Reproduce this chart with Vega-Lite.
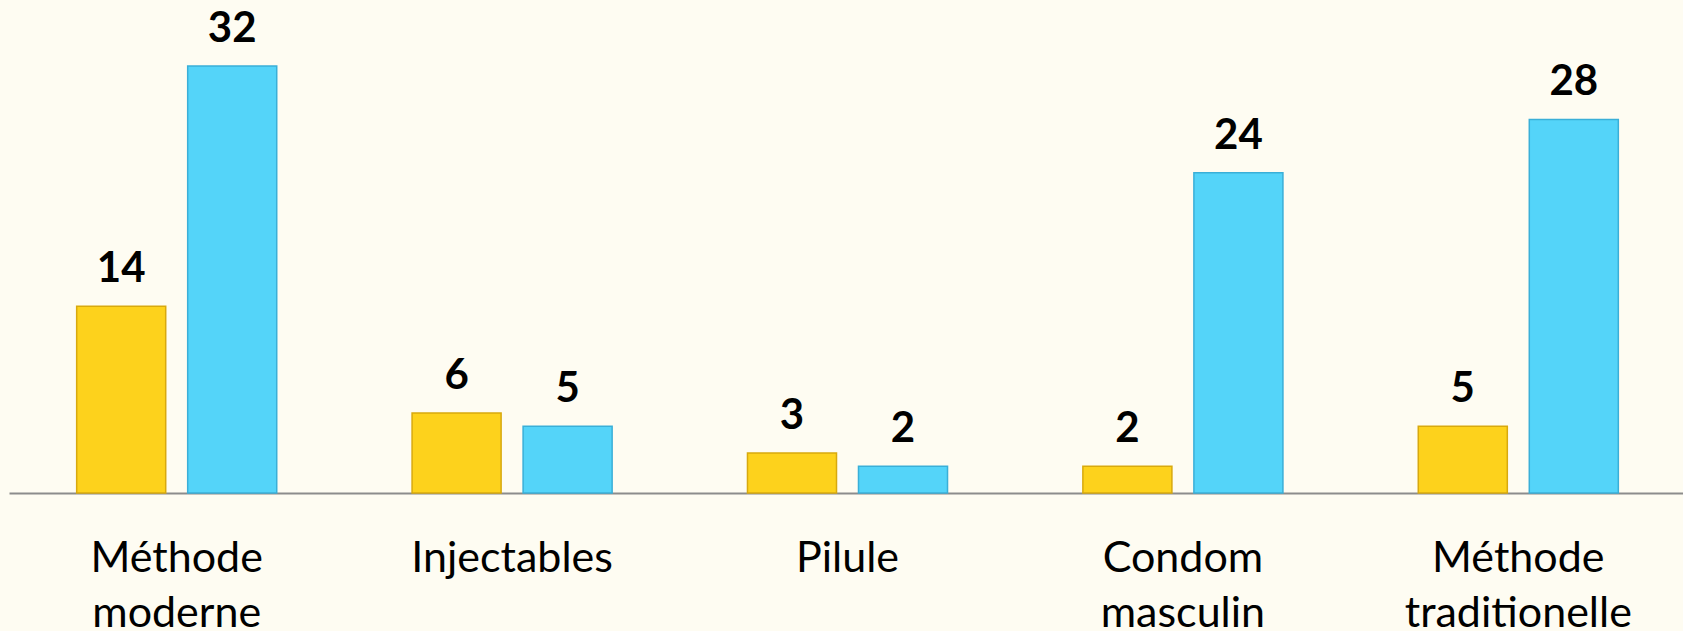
{
  "$schema": "https://vega.github.io/schema/vega-lite/v6.json",
  "autosize": {"type": "none"},
  "width": 1677,
  "height": 493,
  "padding": {"left": 9, "top": 0, "right": 0, "bottom": 138},
  "background": "#FEFCF2",
  "config": {"view": {"stroke": null}},
  "data": {
    "values": [
      {"methode": "Méthode moderne", "groupe": "A", "valeur": 14},
      {"methode": "Méthode moderne", "groupe": "B", "valeur": 32},
      {"methode": "Injectables", "groupe": "A", "valeur": 6},
      {"methode": "Injectables", "groupe": "B", "valeur": 5},
      {"methode": "Pilule", "groupe": "A", "valeur": 3},
      {"methode": "Pilule", "groupe": "B", "valeur": 2},
      {"methode": "Condom masculin", "groupe": "A", "valeur": 2},
      {"methode": "Condom masculin", "groupe": "B", "valeur": 24},
      {"methode": "Méthode traditionelle", "groupe": "A", "valeur": 5},
      {"methode": "Méthode traditionelle", "groupe": "B", "valeur": 28}
    ]
  },
  "encoding": {
    "x": {
      "field": "methode",
      "type": "nominal",
      "sort": null,
      "scale": {"paddingInner": 0.338, "paddingOuter": 0.169},
      "axis": {
        "title": null,
        "labelAngle": 0,
        "labelFont": "Lato",
        "labelFontSize": 43,
        "labelColor": "#000000",
        "labelLimit": 500,
        "labelExpr": "datum.value == 'Méthode moderne' ? ['Méthode', 'moderne'] : datum.value == 'Condom masculin' ? ['Condom', 'masculin'] : datum.value == 'Méthode traditionelle' ? ['Méthode', 'traditionelle'] : datum.value",
        "labelLineHeight": 55,
        "labelPadding": 44,
        "labelBaseline": "top",
        "ticks": false,
        "domainColor": "#8C8C8C",
        "domainWidth": 2
      }
    },
    "xOffset": {
      "field": "groupe",
      "type": "nominal",
      "scale": {"paddingInner": 0.198, "paddingOuter": 0.099}
    },
    "y": {
      "field": "valeur",
      "type": "quantitative",
      "scale": {"domain": [0, 36.95]},
      "axis": null
    }
  },
  "layer": [
    {
      "mark": {"type": "bar", "strokeWidth": 1.5},
      "encoding": {
        "color": {
          "field": "groupe",
          "type": "nominal",
          "scale": {"domain": ["A", "B"], "range": ["#FDD21C", "#54D4F9"]},
          "legend": null
        },
        "stroke": {
          "field": "groupe",
          "type": "nominal",
          "scale": {"domain": ["A", "B"], "range": ["#D8A90E", "#3AAFD8"]},
          "legend": null
        }
      }
    },
    {
      "mark": {
        "type": "text",
        "font": "Lato",
        "fontWeight": "bold",
        "fontSize": 42,
        "baseline": "alphabetic",
        "dy": -24,
        "color": "#000000"
      },
      "encoding": {
        "text": {"field": "valeur", "type": "quantitative"}
      }
    }
  ]
}
